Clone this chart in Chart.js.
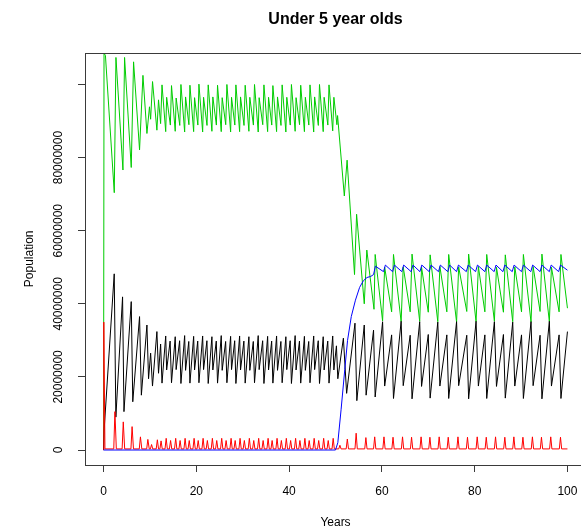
<!DOCTYPE html>
<html>
<head>
<meta charset="utf-8">
<script src="https://cdn.jsdelivr.net/npm/chart.js@4.4.1/dist/chart.umd.min.js"></script>
<style>
  html, body { margin: 0; padding: 0; background: #fff; overflow: hidden; width: 581px; height: 531px; }
  canvas { display: block; }
</style>
</head>
<body>
<canvas id="chart" width="600" height="531"></canvas>
<script>
// Under-5 population by compartment, [year, millions]
const susceptible = [
  [0,0],[0.1,108.5],[0.4,108],[2.31,70.4],[2.67,107.4],[4.18,76.6],[4.53,107.4],[5.97,77.3],[6.47,106.2],
  [7.76,82.1],[8.49,102.5],[9.35,86.6],[9.9,93.9],[10.15,90.5],[10.56,100.8],[11.5,87.5],[11.85,95.8],[12.3,89.3],
  [12.6,99.9],[13.4,87.1],[13.6,96.5],[14.4,88.9],
  [14.65,99.7],[15.45,87.2],[15.65,96.3],[16.43,88.8],
  [16.68,100.0],[17.48,87.0],[17.68,96.6],[18.4,89.0],
  [18.62,99.8],[19.42,87.1],[19.62,96.4],[20.33,88.9],
  [20.56,100.1],[21.36,87.0],[21.56,96.5],[22.3,88.8],
  [22.56,99.9],[23.36,87.2],[23.56,96.6],[24.32,88.9],
  [24.57,99.8],[25.37,87.1],[25.57,96.4],[26.34,89.0],
  [26.59,100.0],[27.39,87.0],[27.59,96.5],[28.3,88.9],
  [28.53,99.9],[29.33,87.1],[29.53,96.6],[30.28,88.8],
  [30.53,99.8],[31.33,87.2],[31.53,96.5],[32.3,88.9],
  [32.54,100.0],[33.34,87.0],[33.54,96.4],[34.32,89.0],
  [34.57,99.9],[35.37,87.1],[35.57,96.5],[36.26,88.9],
  [36.5,99.7],[37.3,87.1],[37.5,96.6],[38.25,88.8],
  [38.5,99.9],[39.3,87.0],[39.5,96.5],[40.25,88.9],
  [40.5,100.0],[41.3,87.2],[41.5,96.4],[42.25,89.0],
  [42.5,99.8],[43.3,87.1],[43.5,96.5],[44.25,88.9],
  [44.5,99.9],[45.3,87.0],[45.5,96.6],[46.3,88.8],
  [46.55,100.0],[47.35,87.1],[47.55,96.5],[48.35,88.9],
  [48.6,99.9],[49.4,87.3],[49.65,96.5],
  [50.3,89.0],[50.45,91.5],[51.9,69.5],[52.5,79.3],[54.1,48.0],[54.55,64.5],[56.2,40.0],[56.75,54.7],
  [58.3,38.5],[58.55,53.5],[60.15,35.3],[60.6,50.0],[62.1,37.8],
  [62.5,53.5],[64.15,35.1],[64.6,50.1],[66.1,37.8],
  [66.5,53.6],[68.15,35.2],[68.55,50.0],[70.0,37.7],
  [70.4,53.4],[72.05,35.1],[72.5,50.2],[74.0,37.8],
  [74.4,53.5],[76.1,35.0],[76.55,50.1],[78.3,37.9],
  [78.7,53.6],[80.3,35.1],[80.8,50.2],[82.2,37.8],
  [82.6,53.5],[84.25,35.2],[84.7,50.0],[86.2,37.7],
  [86.6,53.4],[88.2,35.1],[88.65,50.1],[90.1,37.8],
  [90.5,53.5],[92.15,35.0],[92.6,50.2],[94.1,37.9],
  [94.5,53.6],[96.1,35.1],[96.55,50.0],[98.2,37.8],
  [98.6,53.5],[100,38.8]
];

const infected = [
  [0,0],[0.15,6],[2.3,48.2],[2.65,9],[4.1,41.9],[4.4,10.5],[5.97,40.6],[6.3,13.2],[7.76,36.5],[8.15,15.0],
  [9.35,34.2],[9.7,19.5],[10.15,26.5],[10.55,17.5],[11.5,32.4],[11.85,21.0],[12.3,29.0],
  [12.6,18.3],[13.4,31.2],[13.6,21.9],[14.35,29.8],
  [14.65,18.4],[15.45,31.0],[15.65,22.0],[16.4,29.9],
  [16.68,18.2],[17.48,31.3],[17.68,21.8],[18.37,29.7],
  [18.62,18.3],[19.42,31.1],[19.62,21.9],[20.3,29.8],
  [20.56,18.4],[21.36,31.2],[21.56,22.0],[22.28,29.9],
  [22.56,18.2],[23.36,31.0],[23.56,21.9],[24.3,29.8],
  [24.57,18.3],[25.37,31.3],[25.57,21.8],[26.32,29.7],
  [26.59,18.4],[27.39,31.1],[27.59,22.0],[28.27,29.9],
  [28.53,18.2],[29.33,31.2],[29.53,21.9],[30.25,29.8],
  [30.53,18.3],[31.33,31.0],[31.53,21.8],[32.28,29.7],
  [32.54,18.4],[33.34,31.3],[33.54,22.0],[34.3,29.9],
  [34.57,18.2],[35.37,31.1],[35.57,21.9],[36.24,29.8],
  [36.5,18.3],[37.3,31.2],[37.5,21.8],[38.23,29.7],
  [38.5,18.4],[39.3,31.0],[39.5,22.0],[40.23,29.9],
  [40.5,18.2],[41.3,31.3],[41.5,21.9],[42.23,29.8],
  [42.5,18.3],[43.3,31.1],[43.5,21.8],[44.23,29.7],
  [44.5,18.4],[45.3,31.2],[45.5,22.0],[46.28,29.9],
  [46.55,18.2],[47.35,31.0],[47.55,21.9],[48.33,29.8],
  [48.6,18.3],[49.4,31.2],[49.65,21.9],
  [50.2,28.5],[50.5,19.5],[51.7,30.6],[52.4,15.5],[54.2,34.7],[54.6,13.5],[56.2,34.2],[56.6,15.0],
  [58.2,32.8],[58.55,14.5],
  [60.15,35.1],[60.6,17.5],[62.1,31.5],[62.5,14.1],
  [64.15,35.2],[64.6,17.6],[66.1,31.4],[66.5,14.0],
  [68.15,35.1],[68.55,17.4],[70.0,31.6],[70.4,14.2],
  [72.05,35.0],[72.5,17.5],[74.0,31.5],[74.4,14.1],
  [76.1,35.1],[76.55,17.6],[78.3,31.4],[78.7,14.0],
  [80.3,35.2],[80.8,17.5],[82.2,31.5],[82.6,14.1],
  [84.25,35.1],[84.7,17.4],[86.2,31.6],[86.6,14.2],
  [88.2,35.0],[88.65,17.5],[90.1,31.5],[90.5,14.1],
  [92.15,35.1],[92.6,17.6],[94.1,31.4],[94.5,14.0],
  [96.1,35.2],[96.55,17.5],[98.2,31.5],[98.6,14.1],
  [100,32.4]
];

const deaths = [
  [0,0],[0.05,35],[0.3,0.3],
  [2.2,0.3],[2.45,10.5],[2.75,0.3],
  [4.0,0.3],[4.25,7.7],[4.55,0.3],
  [5.9,0.3],[6.15,6.4],[6.45,0.3],
  [7.7,0.3],[7.95,3.6],[8.25,0.3],
  [9.3,0.3],[9.55,2.9],[9.85,0.3],
  [10.1,0.3],[10.35,1.5],[10.6,0.3],
  [11.35,0.3],[11.6,2.8],[11.85,0.3],
  [12.15,0.3],[12.4,2.5],[12.65,0.3],
  [13.25,0.3],[13.5,3.2],[13.75,0.3],
  [14.2,0.3],[14.45,2.6],[14.7,0.3],
  [15.3,0.3],[15.55,3.2],[15.8,0.3],
  [16.25,0.3],[16.5,2.6],[16.75,0.3],
  [17.33,0.3],[17.58,3.2],[17.83,0.3],
  [18.22,0.3],[18.47,2.6],[18.72,0.3],
  [19.27,0.3],[19.52,3.2],[19.77,0.3],
  [20.15,0.3],[20.4,2.6],[20.65,0.3],
  [21.21,0.3],[21.46,3.2],[21.71,0.3],
  [22.13,0.3],[22.38,2.6],[22.63,0.3],
  [23.21,0.3],[23.46,3.2],[23.71,0.3],
  [24.15,0.3],[24.4,2.6],[24.65,0.3],
  [25.22,0.3],[25.47,3.2],[25.72,0.3],
  [26.17,0.3],[26.42,2.6],[26.67,0.3],
  [27.24,0.3],[27.49,3.2],[27.74,0.3],
  [28.12,0.3],[28.37,2.6],[28.62,0.3],
  [29.18,0.3],[29.43,3.2],[29.68,0.3],
  [30.1,0.3],[30.35,2.6],[30.6,0.3],
  [31.18,0.3],[31.43,3.2],[31.68,0.3],
  [32.13,0.3],[32.38,2.6],[32.63,0.3],
  [33.19,0.3],[33.44,3.2],[33.69,0.3],
  [34.15,0.3],[34.4,2.6],[34.65,0.3],
  [35.22,0.3],[35.47,3.2],[35.72,0.3],
  [36.09,0.3],[36.34,2.6],[36.59,0.3],
  [37.15,0.3],[37.4,3.2],[37.65,0.3],
  [38.08,0.3],[38.33,2.6],[38.58,0.3],
  [39.15,0.3],[39.4,3.2],[39.65,0.3],
  [40.08,0.3],[40.33,2.6],[40.58,0.3],
  [41.15,0.3],[41.4,3.2],[41.65,0.3],
  [42.08,0.3],[42.33,2.6],[42.58,0.3],
  [43.15,0.3],[43.4,3.2],[43.65,0.3],
  [44.08,0.3],[44.33,2.6],[44.58,0.3],
  [45.15,0.3],[45.4,3.2],[45.65,0.3],
  [46.13,0.3],[46.38,2.6],[46.63,0.3],
  [47.2,0.3],[47.45,3.2],[47.7,0.3],
  [48.18,0.3],[48.43,2.6],[48.68,0.3],
  [49.25,0.3],[49.5,3.2],[49.75,0.3],
  [50.7,0.3],[50.95,1.3],[51.2,0.3],
  [52.3,0.3],[52.55,3.0],[52.8,0.3],
  [54.2,0.3],[54.45,4.6],[54.7,0.3],
  [56.3,0.3],[56.55,3.4],[56.8,0.3],
  [58.2,0.3],[58.45,3.6],[58.7,0.3],
  [60.2,0.3],[60.45,3.6],[60.7,0.3],
  [62.15,0.3],[62.4,3.5],[62.65,0.3],
  [64.2,0.3],[64.45,3.6],[64.7,0.3],
  [66.15,0.3],[66.4,3.5],[66.65,0.3],
  [68.2,0.3],[68.45,3.6],[68.7,0.3],
  [70.1,0.3],[70.35,3.5],[70.6,0.3],
  [72.1,0.3],[72.35,3.6],[72.6,0.3],
  [74.05,0.3],[74.3,3.5],[74.55,0.3],
  [76.15,0.3],[76.4,3.6],[76.65,0.3],
  [78.2,0.3],[78.45,3.5],[78.7,0.3],
  [80.3,0.3],[80.55,3.6],[80.8,0.3],
  [82.25,0.3],[82.5,3.5],[82.75,0.3],
  [84.25,0.3],[84.5,3.6],[84.75,0.3],
  [86.25,0.3],[86.5,3.5],[86.75,0.3],
  [88.2,0.3],[88.45,3.6],[88.7,0.3],
  [90.15,0.3],[90.4,3.5],[90.65,0.3],
  [92.2,0.3],[92.45,3.6],[92.7,0.3],
  [94.15,0.3],[94.4,3.5],[94.65,0.3],
  [96.15,0.3],[96.4,3.6],[96.65,0.3],
  [98.25,0.3],[98.5,3.5],[98.75,0.3],
  [100,0.3]
];

const vaccinated = [
  [0,0],[50.0,0],[50.5,2],[51.2,11],[52.0,22],[52.6,30],[53.4,36.5],[54.3,41],[55.2,44.5],[56.0,46.3],
  [56.8,47.2],[57.6,47.5],[58.2,48.0],[58.6,50.3],
  [60.35,48.8],[60.75,50.6],[62.3,48.8],[62.7,50.6],[64.3,48.8],[64.7,50.6],[66.3,48.8],[66.7,50.6],
  [68.2,48.8],[68.6,50.6],[70.2,48.8],[70.6,50.6],[72.2,48.8],[72.6,50.6],[74.2,48.8],[74.6,50.6],
  [76.1,48.8],[76.5,50.6],[78.2,48.8],[78.6,50.6],[80.2,48.8],[80.6,50.6],[82.2,48.8],[82.6,50.6],
  [84.2,48.8],[84.6,50.6],[86.1,48.8],[86.5,50.6],[88.1,48.8],[88.5,50.6],[90.1,48.8],[90.5,50.6],
  [92.1,48.8],[92.5,50.6],[94.1,48.8],[94.5,50.6],[96.1,48.8],[96.5,50.6],[98.1,48.8],[98.5,50.6],
  [100,49.2]
];

const yearTicks = [0, 20, 40, 60, 80, 100];
const populationTicks = [0, 20000000, 40000000, 60000000, 80000000, 100000000];

const MILLION = 1e6;
const toPoints = series => series.map(([year, m]) => ({ x: year, y: m * MILLION }));

const FONT = 'Liberation Sans, Arial, Helvetica, sans-serif';

// Closed frame around the plotting region
const plotFrame = {
  id: 'plotFrame',
  afterDatasetsDraw(chart) {
    const { ctx, chartArea: a } = chart;
    ctx.save();
    ctx.strokeStyle = '#3a3a3a';
    ctx.lineWidth = 1;
    const l = Math.round(a.left) + 0.5, t = Math.round(a.top) + 0.5;
    const r = Math.round(a.right) + 0.5, b = Math.round(a.bottom) + 0.5;
    ctx.strokeRect(l, t, r - l, b - t);
    ctx.restore();
  }
};

const line = (data, color, order) => ({
  data: toPoints(data),
  borderColor: color,
  borderWidth: 1,
  pointRadius: 0,
  tension: 0,
  fill: false,
  order
});

new Chart(document.getElementById('chart'), {
  type: 'line',
  data: {
    datasets: [
      line(vaccinated, '#0000ff', 0),
      line(deaths, '#ff0000', 1),
      line(infected, '#000000', 2),
      line(susceptible, '#00cc00', 3)
    ]
  },
  plugins: [plotFrame],
  options: {
    responsive: false,
    animation: false,
    devicePixelRatio: 1,
    events: [],
    // the plotting region runs past the right edge of the visible page
    layout: { padding: { left: 0, right: 14, top: 0, bottom: 0 } },
    plugins: {
      legend: { display: false },
      tooltip: { enabled: false },
      title: {
        display: true,
        fullSize: false,
        text: 'Under 5 year olds',
        color: '#000',
        font: { family: FONT, size: 16, weight: 'bold', lineHeight: 1.2 },
        padding: { top: 10.4, bottom: 23.1 }
      }
    },
    scales: {
      x: {
        type: 'linear',
        min: -4,
        max: 104,
        afterBuildTicks: s => { s.ticks = yearTicks.map(v => ({ value: v })); },
        afterFit: s => { s.height = 66; },
        border: { display: false },
        grid: { display: true, drawOnChartArea: false, drawTicks: true, tickLength: 7, color: '#3a3a3a', tickColor: '#3a3a3a' },
        ticks: {
          autoSkip: false, maxRotation: 0, minRotation: 0, padding: 12,
          color: '#000', font: { family: FONT, size: 12 },
          callback: v => String(v)
        },
        title: {
          display: true, text: 'Years', color: '#000',
          font: { family: FONT, size: 12, lineHeight: 1.2 },
          padding: { top: 0, bottom: 1.1 }
        }
      },
      y: {
        type: 'linear',
        min: -4.1e6,
        max: 108.7e6,
        afterBuildTicks: s => { s.ticks = populationTicks.map(v => ({ value: v })); },
        afterFit: s => { s.width = 85; },
        border: { display: false },
        grid: { display: true, drawOnChartArea: false, drawTicks: true, tickLength: 7, color: '#3a3a3a', tickColor: '#3a3a3a' },
        ticks: {
          autoSkip: false, minRotation: 90, maxRotation: 90, crossAlign: 'center', padding: -7,
          color: '#000', font: { family: FONT, size: 12 },
          callback: v => (v >= 100000000 ? '' : String(v))
        },
        title: {
          display: true, text: 'Population', color: '#000',
          font: { family: FONT, size: 12, lineHeight: 1.2 },
          padding: { top: 22.8, bottom: 0 }
        }
      }
    }
  }
});
</script>
</body>
</html>
